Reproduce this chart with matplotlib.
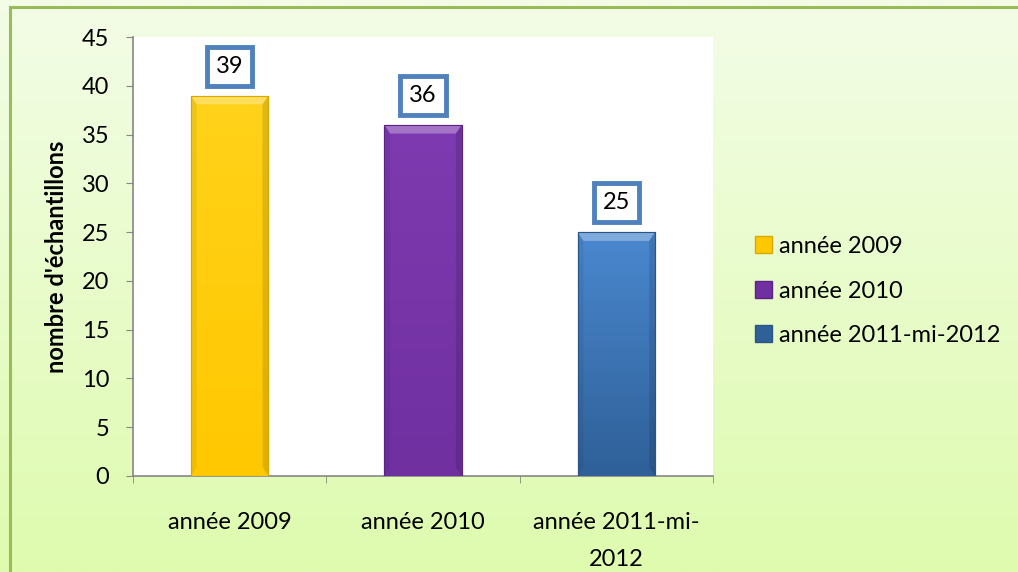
import numpy as np
import matplotlib
matplotlib.use("Agg")
import matplotlib.pyplot as plt
from matplotlib.colors import LinearSegmentedColormap
from matplotlib.patches import Rectangle, Polygon
from matplotlib.lines import Line2D

categories = ["année 2009", "année 2010", "année 2011-mi-\n2012"]
legend_labels = ["année 2009", "année 2010", "année 2011-mi-2012"]
values = [39, 36, 25]
yticks = [0, 5, 10, 15, 20, 25, 30, 35, 40, 45]
ylabel = "nombre d'échantillons"

top_colors = ["#FFD21A", "#7E3AB0", "#4A88CF"]
bot_colors = ["#FFC800", "#7030A0", "#2F6098"]
edge_colors = ["#D9A800", "#5A2385", "#2A5585"]

plt.rcParams['font.family'] = ['Lato', 'DejaVu Sans']

W, H, DPI = 1018, 572, 100
fig = plt.figure(figsize=(W / DPI, H / DPI), dpi=DPI)

# background gradient
bg = fig.add_axes([0, 0, 1, 1], zorder=-10)
grad = np.linspace(0, 1, 256).reshape(-1, 1)
cmap_bg = LinearSegmentedColormap.from_list("bg", ["#F3FDE7", "#DEFBAE"])
bg.imshow(grad, aspect="auto", cmap=cmap_bg, extent=[0, 1, 0, 1], origin="upper")
bg.set_xlim(0, 1); bg.set_ylim(0, 1)
bg.axis("off")
bx = 9.5 / W
by = 1 - 7 / H
bg.add_line(Line2D([bx, 1], [by, by], color="#9BBB59", lw=2.2))
bg.add_line(Line2D([bx, bx], [0, by], color="#9BBB59", lw=2.2))

# plot axes
left, right, top, bottom = 133, 713, 37, 476
ax = fig.add_axes([left / W, 1 - bottom / H, (right - left) / W, (bottom - top) / H])
ax.set_facecolor("white")
x = np.arange(len(values))
bw = 0.4
bars = ax.bar(x, values, width=bw, color=bot_colors, edgecolor=edge_colors, linewidth=0.8, zorder=3)

for i, b in enumerate(bars):
    x0, w, h = b.get_x(), b.get_width(), b.get_height()
    cm = LinearSegmentedColormap.from_list("c%d" % i, [top_colors[i], bot_colors[i]])
    im = ax.imshow(np.linspace(0, 1, 100).reshape(-1, 1), cmap=cm, aspect="auto",
                   extent=[x0, x0 + w, 0, h], origin="upper", zorder=3.5)
    im.set_clip_path(b)
    d = 0.03
    dy = 0.9
    ax.add_patch(Polygon([[x0, h], [x0 + w, h], [x0 + w - d, h - dy], [x0 + d, h - dy]],
                         closed=True, facecolor="white", alpha=0.3, edgecolor="none", zorder=4))
    ax.add_patch(Polygon([[x0, h], [x0 + d, h - dy], [x0 + d, dy], [x0, 0]],
                         closed=True, facecolor="black", alpha=0.06, edgecolor="none", zorder=4))
    ax.add_patch(Polygon([[x0 + w, h], [x0 + w - d, h - dy], [x0 + w - d, dy], [x0 + w, 0]],
                         closed=True, facecolor="black", alpha=0.12, edgecolor="none", zorder=4))
    ax.add_patch(Rectangle((x0, 0), w, h, facecolor="none", edgecolor=edge_colors[i], lw=0.8, zorder=4.5))
    ax.annotate(str(values[i]), (x0 + w / 2, h), xytext=(0, 21), textcoords="offset points",
                ha="center", va="center", fontsize=17, color="black", zorder=6,
                bbox=dict(boxstyle="square,pad=0.38", facecolor="white", edgecolor="#4F81BD", lw=3.5))

ax.set_xlim(-0.5, len(values) - 0.5)
ax.set_ylim(0, 45)
ax.set_yticks(yticks)
ax.set_yticklabels([str(t) for t in yticks], fontsize=17)
ax.set_xticks(x)
ax.set_xticklabels(categories, fontsize=17, linespacing=1.95)
ax.tick_params(axis="x", length=0, pad=26)
ax.set_xticks(np.arange(-0.5, len(values), 1), minor=True)
ax.tick_params(axis="x", which="minor", length=5, direction="out", color="#868686")
ax.tick_params(axis="y", length=5, direction="out", color="#868686", pad=12)
for s in ["top", "right"]:
    ax.spines[s].set_visible(False)
for s in ["left", "bottom"]:
    ax.spines[s].set_color("#868686")
    ax.spines[s].set_linewidth(1.2)
ax.set_ylabel(ylabel, fontsize=17, fontweight="bold", labelpad=10)

handles = [Rectangle((0, 0), 1, 1, facecolor=bot_colors[i], edgecolor=edge_colors[i]) for i in range(3)]
fig.legend(handles, legend_labels, loc="center left", bbox_to_anchor=(755 / W, 1 - 291 / H),
           frameon=False, fontsize=17, handlelength=0.72, handleheight=0.72, handletextpad=0.3,
           labelspacing=1.0, borderpad=0, borderaxespad=0)

fig.savefig("out.png", dpi=DPI)
